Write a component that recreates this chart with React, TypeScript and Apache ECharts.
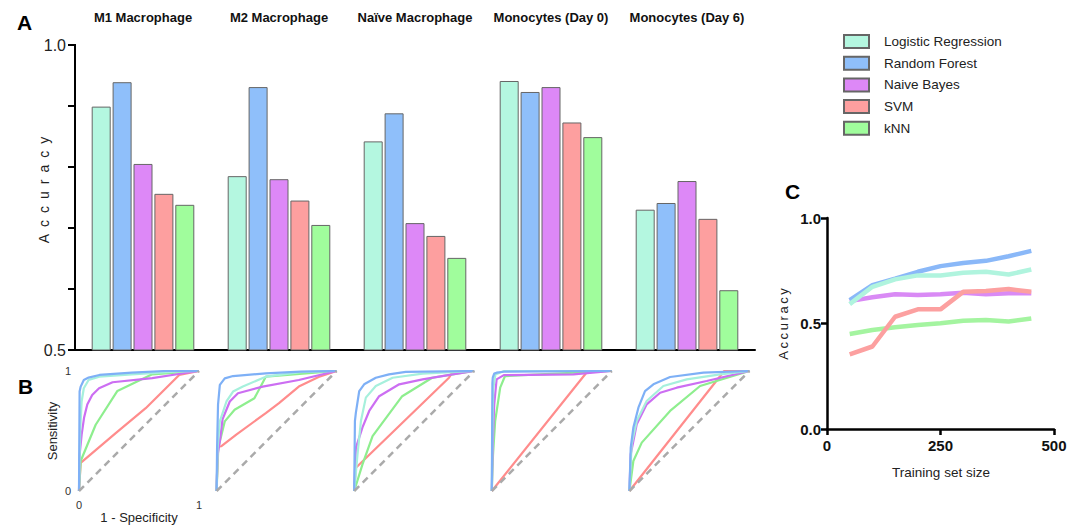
import React, { useEffect, useRef } from "react";
import * as echarts from "echarts";

const categories = ["M1 Macrophage", "M2 Macrophage", "Naïve Macrophage", "Monocytes (Day 0)", "Monocytes (Day 6)"];
const models = ["Logistic Regression", "Random Forest", "Naive Bayes", "SVM", "kNN"];

const accLR = [0.899, 0.785, 0.842, 0.941, 0.73];
const accRF = [0.939, 0.931, 0.888, 0.923, 0.741];
const accNB = [0.805, 0.78, 0.708, 0.931, 0.777];
const accSVM = [0.756, 0.745, 0.687, 0.873, 0.715];
const accKNN = [0.738, 0.705, 0.651, 0.849, 0.598];

const accTickLabels = ["0.5", "0.6", "0.7", "0.8", "0.9", "1.0"];

// ROC curves, one entry per cell type (same order as categories)
const rocLR = [
  [[0, 0], [0.01, 0.5], [0.022, 0.746], [0.04, 0.856], [0.08, 0.925], [0.17, 0.953], [0.44, 0.972], [0.8, 0.995], [1, 1]],
  [[0, 0], [0.008, 0.35], [0.027, 0.58], [0.082, 0.746], [0.137, 0.829], [0.219, 0.87], [0.41, 0.953], [0.7, 0.99], [1, 1]],
  [[0, 0], [0.028, 0.31], [0.056, 0.583], [0.097, 0.778], [0.18, 0.875], [0.32, 0.944], [0.57, 0.978], [1, 1]],
  [[0, 0], [0.005, 0.5], [0.012, 0.85], [0.03, 0.97], [0.1, 1], [1, 1]],
  [[0, 0], [0.019, 0.389], [0.061, 0.583], [0.144, 0.75], [0.283, 0.875], [0.478, 0.93], [0.756, 0.972], [1, 1]],
];
const rocRF = [
  [[0, 0], [0.005, 0.83], [0.014, 0.87], [0.04, 0.925], [0.08, 0.945], [0.17, 0.967], [0.44, 0.986], [0.72, 1], [1, 1]],
  [[0, 0], [0.004, 0.36], [0.012, 0.72], [0.027, 0.884], [0.068, 0.939], [0.137, 0.958], [0.41, 0.98], [0.7, 0.995], [1, 1]],
  [[0, 0], [0.006, 0.583], [0.014, 0.653], [0.042, 0.833], [0.083, 0.889], [0.18, 0.944], [0.29, 0.972], [0.43, 0.992], [1, 1]],
  [[0, 0], [0.005, 0.9], [0.008, 0.944], [0.02, 0.978], [0.04, 0.986], [0.1, 0.994], [1, 1]],
  [[0, 0], [0.011, 0.361], [0.033, 0.528], [0.075, 0.694], [0.13, 0.833], [0.2, 0.889], [0.339, 0.95], [0.617, 0.986], [1, 1]],
];
const rocNB = [
  [[0, 0], [0.005, 0.3], [0.022, 0.47], [0.042, 0.61], [0.069, 0.72], [0.11, 0.8], [0.167, 0.856], [0.28, 0.906], [0.61, 0.94], [0.83, 0.975], [1, 1]],
  [[0, 0], [0.008, 0.3], [0.027, 0.414], [0.05, 0.6], [0.11, 0.746], [0.178, 0.815], [0.384, 0.87], [0.685, 0.925], [1, 1]],
  [[0, 0], [0.014, 0.36], [0.069, 0.53], [0.125, 0.667], [0.208, 0.79], [0.375, 0.889], [0.57, 0.93], [0.82, 0.972], [1, 1]],
  [[0, 0], [0.008, 0.4], [0.02, 0.72], [0.04, 0.93], [0.1, 0.966], [0.68, 0.972], [1, 1]],
  [[0, 0], [0.011, 0.306], [0.061, 0.556], [0.144, 0.722], [0.256, 0.819], [0.394, 0.861], [0.644, 0.917], [1, 1]],
];
const rocSVM = [
  [[0, 0], [0.014, 0.235], [0.306, 0.483], [0.556, 0.69], [0.835, 0.967], [1, 1]],
  [[0, 0], [0.01, 0.37], [0.04, 0.373], [0.164, 0.47], [0.41, 0.649], [0.52, 0.732], [0.685, 0.87], [0.85, 0.95], [1, 1]],
  [[0, 0], [0.014, 0.194], [0.79, 0.944], [0.82, 0.99], [1, 1]],
  [[0, 0], [0.8, 1], [1, 1]],
  [[0, 0], [0.79, 1], [1, 1]],
];
const rocKNN = [
  [[0, 0], [0.014, 0.25], [0.139, 0.552], [0.32, 0.834], [0.61, 0.972], [1, 1]],
  [[0, 0], [0.014, 0.36], [0.068, 0.58], [0.15, 0.677], [0.315, 0.773], [0.41, 0.953], [1, 1]],
  [[0, 0], [0.069, 0.222], [0.153, 0.458], [0.4, 0.79], [0.65, 0.944], [1, 1]],
  [[0, 0], [0.01, 0.3], [0.028, 0.583], [0.07, 0.861], [0.11, 0.958], [1, 1]],
  [[0, 0], [0.033, 0.25], [0.103, 0.403], [0.339, 0.667], [0.589, 0.875], [1, 1]],
];
const rocChance = [[0, 0], [1, 1]];

// Learning curves (panel C)
const trainSizes = [50, 100, 150, 200, 250, 300, 350, 400, 450];
const learnLR = [0.592, 0.674, 0.709, 0.728, 0.728, 0.74, 0.745, 0.732, 0.756];
const learnRF = [0.611, 0.682, 0.713, 0.745, 0.772, 0.787, 0.797, 0.819, 0.844];
const learnNB = [0.606, 0.624, 0.639, 0.635, 0.639, 0.646, 0.639, 0.643, 0.643];
const learnSVM = [0.354, 0.391, 0.532, 0.567, 0.567, 0.65, 0.654, 0.663, 0.65];
const learnKNN = [0.45, 0.469, 0.482, 0.493, 0.501, 0.513, 0.517, 0.509, 0.524];

const FONT = "'Liberation Sans', Arial, sans-serif";
const barColors = ["#b4f7e0", "#8fbffa", "#dd88f7", "#fd9f9f", "#a0fd9c"];
const rocColors = ["#a6f0dc", "#7eb0f6", "#cc6ef2", "#ff8c8c", "#8eee8e"];
const learnColors = ["#b0f4de", "#8ab8f8", "#d98af5", "#fca0a0", "#a4f4a0"];

export default function App() {
  const ref = useRef<HTMLDivElement>(null);
  useEffect(() => {
    if (!ref.current) return;
    const chart = echarts.init(ref.current, undefined, { renderer: "svg" });

    const barGrid = { left: 75, top: 45, width: 680, height: 305 };
    const rocLeft = [79, 216.6, 354.2, 491.8, 629.4];
    const grids: any[] = [{ ...barGrid }];
    rocLeft.forEach((l) => grids.push({ left: l, top: 371, width: 120, height: 120 }));
    grids.push({ left: 827, top: 218, width: 227, height: 211 });

    const xAxes: any[] = [
      {
        type: "category",
        gridIndex: 0,
        data: categories,
        position: "bottom",
        axisLine: { lineStyle: { color: "#000", width: 2 } },
        axisTick: { show: false },
        axisLabel: { show: false },
      },
      {
        type: "category",
        gridIndex: 0,
        data: categories,
        position: "top",
        axisLine: { show: false },
        axisTick: { show: false },
        axisLabel: { interval: 0, margin: 21, fontWeight: "bold", fontSize: 13, color: "#111", fontFamily: FONT },
      },
    ];
    const yAxes: any[] = [
      {
        type: "value",
        gridIndex: 0,
        position: "left",
        min: 0.5,
        max: 1.0,
        interval: 0.1,
        axisLine: { show: true, onZero: false, lineStyle: { color: "#000", width: 2 } },
        axisTick: { show: true, length: 7, lineStyle: { color: "#000", width: 2 } },
        splitLine: { show: false },
        axisLabel: { show: false },
      },
      {
        type: "value",
        gridIndex: 0,
        position: "left",
        offset: 0,
        min: 0.5,
        max: 1.0,
        interval: 0.5,
        axisLine: { show: false, onZero: false },
        axisTick: { show: false },
        splitLine: { show: false },
        axisLabel: { fontSize: 16, color: "#222", margin: 9, fontFamily: FONT, formatter: (v: number) => v.toFixed(1) },
      },
    ];
    rocLeft.forEach((_, i) => {
      const first = i === 0;
      xAxes.push({
        type: "value",
        gridIndex: 1 + i,
        min: 0,
        max: 1,
        interval: 1,
        name: first ? "1 - Specificity" : "",
        nameLocation: "middle",
        nameGap: 19,
        nameTextStyle: { fontSize: 13, color: "#222", fontFamily: FONT },
        axisLine: { show: false },
        axisTick: { show: false },
        splitLine: { show: false },
        axisLabel: { show: first, fontSize: 11, color: "#333", margin: 8, fontFamily: FONT },
      });
      yAxes.push({
        type: "value",
        gridIndex: 1 + i,
        min: 0,
        max: 1,
        interval: 1,
        name: first ? "Sensitivity" : "",
        nameLocation: "middle",
        nameGap: 20,
        nameTextStyle: { fontSize: 13, color: "#222", fontFamily: FONT },
        axisLine: { show: false },
        axisTick: { show: false },
        splitLine: { show: false },
        axisLabel: { show: first, fontSize: 11, color: "#333", margin: 8, fontFamily: FONT },
      });
    });
    xAxes.push({
      type: "value",
      gridIndex: 6,
      min: 0,
      max: 500,
      interval: 250,
      axisLine: { show: true, onZero: false, lineStyle: { color: "#000", width: 2.5 } },
      axisTick: { show: true, length: 6, lineStyle: { color: "#000", width: 2.5 } },
      splitLine: { show: false },
      axisLabel: { fontSize: 15, fontWeight: "bold", color: "#111", margin: 9, fontFamily: FONT },
    });
    yAxes.push({
      type: "value",
      gridIndex: 6,
      min: 0,
      max: 1,
      interval: 0.5,
      axisLine: { show: true, onZero: false, lineStyle: { color: "#000", width: 2.5 } },
      axisTick: { show: true, length: 6, lineStyle: { color: "#000", width: 2.5 } },
      splitLine: { show: false },
      axisLabel: { fontSize: 15, fontWeight: "bold", color: "#111", margin: 6, fontFamily: FONT, formatter: (v: number) => v.toFixed(1) },
    });

    const accAll = [accLR, accRF, accNB, accSVM, accKNN];
    const series: any[] = models.map((m, k) => ({
      type: "bar",
      name: m,
      xAxisIndex: 0,
      yAxisIndex: 0,
      data: accAll[k],
      barWidth: 19,
      barGap: "10%",
      itemStyle: { color: barColors[k], borderColor: "#666", borderWidth: 1 },
    }));

    const rocAll = [rocLR, rocRF, rocNB, rocSVM, rocKNN];
    const rocOrder = [3, 4, 2, 0, 1];
    rocLeft.forEach((_, i) => {
      rocOrder.forEach((k) => {
        series.push({
          type: "line",
          name: models[k],
          xAxisIndex: 2 + i,
          yAxisIndex: 2 + i,
          data: rocAll[k][i],
          showSymbol: false,
          symbol: "none",
          lineStyle: { color: rocColors[k], width: 2.2 },
          z: 3,
        });
      });
      series.push({
        type: "line",
        name: "chance",
        xAxisIndex: 2 + i,
        yAxisIndex: 2 + i,
        data: rocChance,
        showSymbol: false,
        symbol: "none",
        lineStyle: { color: "#aaaaaa", width: 2.5, type: [7, 5] },
        z: 4,
      });
    });

    const learnAll = [learnLR, learnRF, learnNB, learnSVM, learnKNN];
    const learnOrder = [4, 2, 3, 1, 0];
    learnOrder.forEach((k) => {
      series.push({
        type: "line",
        name: models[k],
        xAxisIndex: 7,
        yAxisIndex: 7,
        data: trainSizes.map((s, j) => [s, learnAll[k][j]]),
        showSymbol: false,
        symbol: "none",
        lineStyle: { color: learnColors[k], width: 4.5 },
      });
    });

    const nameText = (id: string, text: string, x: number, y: number, size: number, rotate: boolean) => ({
      id,
      type: "text",
      x,
      y,
      rotation: rotate ? Math.PI / 2 : 0,
      style: {
        text,
        fill: "#222",
        fontSize: size,
        fontFamily: FONT,
        align: "center",
        verticalAlign: "middle",
      },
    });
    const texts = [
      nameText("nA", "A\u2002c\u2002c\u2002u\u2002r\u2002a\u2002c\u2002y", 44, 190, 14, true),
      nameText("nC", "A\u2009c\u2009c\u2009u\u2009r\u2009a\u2009c\u2009y", 783, 324, 13, true),
      nameText("nCx", "Training set size", 941, 472, 13.5, false),
    ];

    chart.setOption({
      animation: false,
      backgroundColor: "#fff",
      textStyle: { fontFamily: FONT },
      title: [
        { text: "A", left: 12, top: 7, textStyle: { fontSize: 21, fontWeight: "bold", color: "#000", fontFamily: FONT } },
        { text: "B", left: 13, top: 371, textStyle: { fontSize: 21, fontWeight: "bold", color: "#000", fontFamily: FONT } },
        { text: "C", left: 780, top: 176, textStyle: { fontSize: 21, fontWeight: "bold", color: "#000", fontFamily: FONT } },
      ],
      graphic: texts,
      legend: {
        data: models,
        orient: "vertical",
        left: 843,
        top: 34,
        padding: 0,
        itemWidth: 25,
        itemHeight: 13,
        itemGap: 6.7,
        icon: "rect",
        selectedMode: false,
        textStyle: { fontSize: 13.5, color: "#222", fontFamily: FONT, padding: [0, 0, 0, 10] },
      },
      grid: grids,
      xAxis: xAxes,
      yAxis: yAxes,
      series,
    });

    // Panel A accuracy axis spine + ticks, positioned through the bar chart's own y scale
    try {
      const tickVals = accTickLabels.map(Number);
      const ys = tickVals.map((v) => chart.convertToPixel({ yAxisIndex: 0 } as any, v) as unknown as number);
      const x0 = (chart.convertToPixel({ gridIndex: 0 } as any, [0, 0.5]) as any)[0] - (680 / 5) / 2;
      const yMin = Math.min(...ys);
      const yMax = Math.max(...ys);
      const frame: any[] = [
        {
          id: "spine",
          type: "line",
          z: 100,
          shape: { x1: x0, y1: yMin - 1, x2: x0, y2: yMax + 1 },
          style: { stroke: "#000", lineWidth: 2 },
        },
        ...ys.map((y, i) => ({
          id: "tick" + i,
          type: "line",
          z: 100,
          shape: { x1: x0 - 7, y1: y, x2: x0, y2: y },
          style: { stroke: "#000", lineWidth: 2 },
        })),
      ];
      chart.setOption({ graphic: [...texts, ...frame] });
    } catch (e) {
      // keep the chart as drawn
    }
    return () => chart.dispose();
  }, []);
  return <div ref={ref} style={{ position: "absolute", left: 0, top: 0, width: 1082, height: 525 }} />;
}
